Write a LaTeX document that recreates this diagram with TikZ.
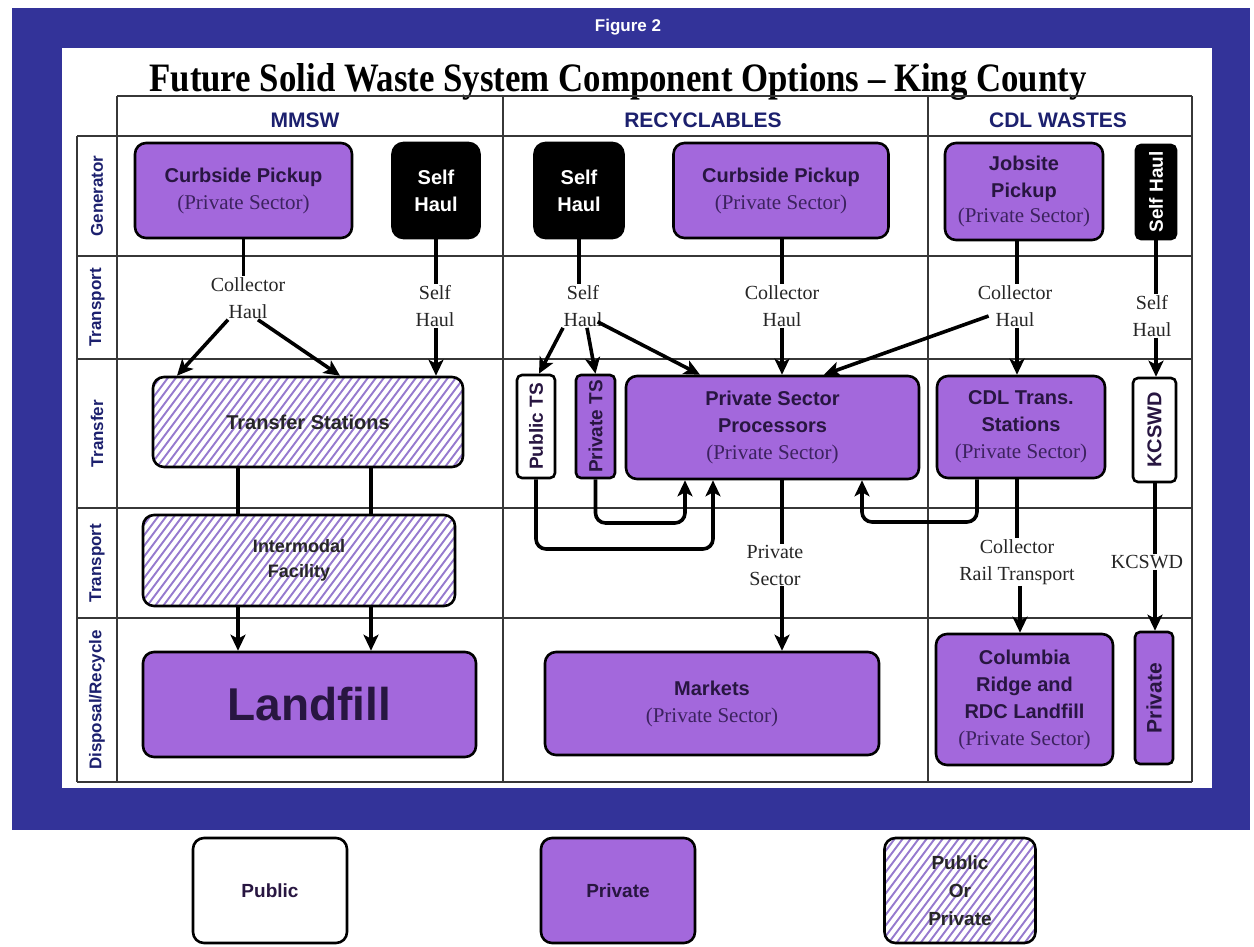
\documentclass[tikz,border=0pt]{standalone}
\usepackage{fontspec}
\setmainfont{Liberation Serif}
\setsansfont{Liberation Sans}
\usepackage{graphicx}
\usetikzlibrary{arrows.meta}
\definecolor{frameblue}{RGB}{51,51,153}
\definecolor{purp}{RGB}{163,104,220}
\definecolor{hatchc}{RGB}{150,122,206}
\definecolor{dk}{RGB}{40,22,65}
\definecolor{dkp}{RGB}{60,34,95}
\definecolor{navy}{RGB}{28,32,110}
\definecolor{gridc}{RGB}{55,55,55}
\newcommand{\bsf}[2]{\fontsize{#1pt}{#2pt}\selectfont\sffamily\bfseries}
\newcommand{\trm}[2]{\fontsize{#1pt}{#2pt}\selectfont\rmfamily\mdseries}
\begin{document}
\begin{tikzpicture}[x=1pt,y=-1pt,
  box/.style={draw=black, line width=2.6pt, rounded corners=11pt, align=center, inner sep=0pt, text=dk, font=\bsf{20}{27}},
  prv/.style={box, fill=purp},
  pub/.style={box, fill=white},
  blk/.style={box, fill=black, text=white},
  hatched/.style={box, fill=white, text=black!85, path picture={
     \foreach \k in {-140,-132,...,360}{
       \draw[hatchc, line width=1.9pt, sharp corners] ([xshift=\k pt]path picture bounding box.south west) -- ++(105pt,140pt);
     }}},
  lbl/.style={align=center, inner sep=1pt, text=black!85, font=\trm{20}{27}},
  rowlbl/.style={rotate=90, inner sep=0pt, text=navy, font=\bsf{17}{18}},
  hdr/.style={inner sep=0pt, text=navy, font=\bsf{21}{24}},
  ln/.style={line width=3.6pt},
  arr/.style={line width=3.6pt, -{Stealth[length=16pt,width=15pt,inset=4pt]}},
  grid/.style={gridc, line width=1.3pt}
]
\useasboundingbox (0,0) rectangle (1254,946);
\fill[white] (0,0) rectangle (1254,946);
% frame
\fill[frameblue] (12,8) rectangle (1250,830);
\fill[white] (62,48) rectangle (1212,788);
\node[text=white, font=\bsf{17}{20}] (fig) at (628,27) {Figure 2};
% title
\node[anchor=base, inner sep=0pt] (title) at (618,91) {\resizebox{937pt}{28pt}{\bfseries\rmfamily Future Solid Waste System Component Options -- King County}};
% table grid
\draw[grid] (117,96) -- (1192,96);
\foreach \yy in {136,256,359,508,618,782} \draw[grid] (77,\yy) -- (1192,\yy);
\draw[grid] (77,136) -- (77,782);
\foreach \xx in {117,503,928,1192} \draw[grid] (\xx,96) -- (\xx,782);
% headers
\node[hdr] (h1) at (305,120) {MMSW};
\node[hdr] (h2) at (703,120) {RECYCLABLES};
\node[hdr] (h3) at (1058,120) {CDL WASTES};
% row labels
\node[rowlbl] (r1) at (97,196) {Generator};
\node[rowlbl] (r2) at (97,307.5) {Transport};
\node[rowlbl] (r3) at (97,433.5) {Transfer};
\node[rowlbl] (r4) at (97,563) {Transport};
\node[rowlbl] (r5) at (97,700) {Disposal/Recycle};

% ---------- MMSW ----------
\node[prv, minimum width=217pt, minimum height=95pt] (cp1) at (243.5,190.5)
  {Curbside Pickup\\{\trm{21}{27}\color{dkp}(Private Sector)}};
\node[blk, minimum width=87pt, minimum height=95pt] (sh1b) at (436,190.5) {Self\\Haul};
\node[hatched, minimum width=310pt, minimum height=90pt] (ts) at (308,422) {Transfer Stations};
\node[hatched, minimum width=312pt, minimum height=91pt, font=\bsf{18}{25}] (im) at (299,560.5) {Intermodal\\Facility};
\node[prv, minimum width=333pt, minimum height=105pt, font=\bsf{46}{50}] (lf) at (309.5,704.5) {Landfill};
\node[lbl] (ch1) at (248,298) {Collector\\Haul};
\node[lbl] (sh1) at (435,306) {Self\\Haul};

\draw[ln] (cp1.south) -- (cp1.south |- ch1.north);
\draw[arr] ([xshift=-20pt]ch1.south) -- (177,0 |- ts.north);
\draw[arr] ([xshift=10pt]ch1.south) -- (340,0 |- ts.north);
\draw[ln] (sh1b.south) -- (sh1b.south |- sh1.north);
\draw[arr] (sh1b.south |- sh1.south) -- (sh1b.south |- ts.north);
\draw[ln] (238,0 |- ts.south) -- (238,0 |- im.north);
\draw[ln] (371,0 |- ts.south) -- (371,0 |- im.north);
\draw[arr] (238,0 |- im.south) -- (238,0 |- lf.north);
\draw[arr] (371,0 |- im.south) -- (371,0 |- lf.north);

% ---------- RECYCLABLES ----------
\node[blk, minimum width=89pt, minimum height=95pt] (sh2b) at (579,190.5) {Self\\Haul};
\node[prv, minimum width=215pt, minimum height=95pt] (cp2) at (781,190.5)
  {Curbside Pickup\\{\trm{21}{27}\color{dkp}(Private Sector)}};
\node[pub, rounded corners=5pt, rotate=90, minimum width=103pt, minimum height=38pt, font=\bsf{19}{22}] (pub) at (536,426.5) {Public TS};
\node[prv, rounded corners=5pt, rotate=90, minimum width=103pt, minimum height=39pt, font=\bsf{19}{22}] (prts) at (595.5,426.5) {Private TS};
\node[prv, minimum width=293pt, minimum height=103pt] (proc) at (772.5,427.5)
  {Private Sector\\Processors\\{\trm{21}{27}\color{dkp}(Private Sector)}};
\node[prv, minimum width=334pt, minimum height=103pt] (mk) at (712,703.5)
  {Markets\\{\trm{21}{27}\color{dkp}(Private Sector)}};
\node[lbl] (sh2) at (583,306) {Self\\Haul};
\node[lbl] (ch2) at (782,306) {Collector\\Haul};
\node[lbl] (ps) at (775,565) {Private\\Sector};

\draw[ln] (sh2b.south) -- (sh2b.south |- sh2.north);
\draw[arr] ([xshift=-20pt]sh2.south) -- ([xshift=3pt]pub.east);
\draw[arr] ([xshift=4pt]sh2.south) -- (prts.east);
\draw[arr] ([xshift=-6pt,yshift=6pt]sh2.south east) -- (700,0 |- proc.north);
\draw[ln] (782,0 |- cp2.south) -- (782,0 |- ch2.north);
\draw[arr] (782,0 |- ch2.south) -- (782,0 |- proc.north);
\draw[arr, rounded corners=10pt] (pub.west) |- (713,549) -- (713,0 |- proc.south);
\draw[arr, rounded corners=10pt] (prts.west) |- (685,523) -- (685,0 |- proc.south);
\draw[ln] (782,0 |- proc.south) -- (782,0 |- ps.north);
\draw[arr] (782,0 |- ps.south) -- (782,0 |- mk.north);

% ---------- CDL WASTES ----------
\node[prv, minimum width=158pt, minimum height=97pt] (jp) at (1024,191.5)
  {Jobsite\\Pickup\\[-2pt]{\trm{21}{27}\color{dkp}(Private Sector)}};
\node[blk, rounded corners=5pt, rotate=90, minimum width=94pt, minimum height=40pt, font=\bsf{19}{22}] (sh3b) at (1156,192) {Self Haul};
\node[prv, minimum width=168pt, minimum height=102pt] (cdl) at (1021,427)
  {CDL Trans.\\Stations\\{\trm{21}{27}\color{dkp}(Private Sector)}};
\node[pub, rounded corners=5pt, rotate=90, minimum width=104pt, minimum height=43pt, font=\bsf{20}{22}] (kb) at (1154.5,430) {KCSWD};
\node[prv, minimum width=177pt, minimum height=131pt] (col) at (1024.5,699.5)
  {Columbia\\Ridge and\\RDC Landfill\\{\trm{21}{27}\color{dkp}(Private Sector)}};
\node[prv, rounded corners=5pt, rotate=90, minimum width=132pt, minimum height=38pt, font=\bsf{21}{22}] (pv) at (1154,698) {Private};
\node[lbl] (ch3) at (1015,306) {Collector\\Haul};
\node[lbl] (sh3) at (1152,316) {Self\\Haul};
\node[lbl] (crt) at (1017,562) {Collector\\Rail Transport};
\node[lbl] (kc) at (1147,562) {KCSWD};

\draw[ln] (1017,0 |- jp.south) -- (1017,0 |- ch3.north);
\draw[arr] (1017,0 |- ch3.south) -- (1017,0 |- cdl.north);
\draw[arr] ([xshift=12pt,yshift=-10pt]ch3.west) -- (824,0 |- proc.north);
\draw[ln] (1156,0 |- sh3b.west) -- (1156,0 |- sh3.north);
\draw[arr] (1156,0 |- sh3.south) -- (1156,0 |- kb.east);
\draw[arr, rounded corners=10pt] (977,0 |- cdl.south) |- (862,522) -- (862,0 |- proc.south);
\draw[ln] (1017,0 |- cdl.south) -- (1017,0 |- crt.north);
\draw[arr] (1020,0 |- crt.south) -- (1020,0 |- col.north);
\draw[ln] (1155,0 |- kb.west) -- (1155,0 |- kc.north);
\draw[arr] (1155,0 |- kc.south) -- (1155,0 |- pv.east);

% ---------- legend ----------
\node[pub, minimum width=154pt, minimum height=105pt, font=\bsf{19}{28}] (lg1) at (270,890.5) {Public};
\node[prv, minimum width=154pt, minimum height=105pt, font=\bsf{19}{28}] (lg2) at (618,890.5) {Private};
\node[hatched, minimum width=151pt, minimum height=105pt, font=\bsf{19}{28}] (lg3) at (960,890.5) {Public\\Or\\Private};
\end{tikzpicture}
\end{document}
